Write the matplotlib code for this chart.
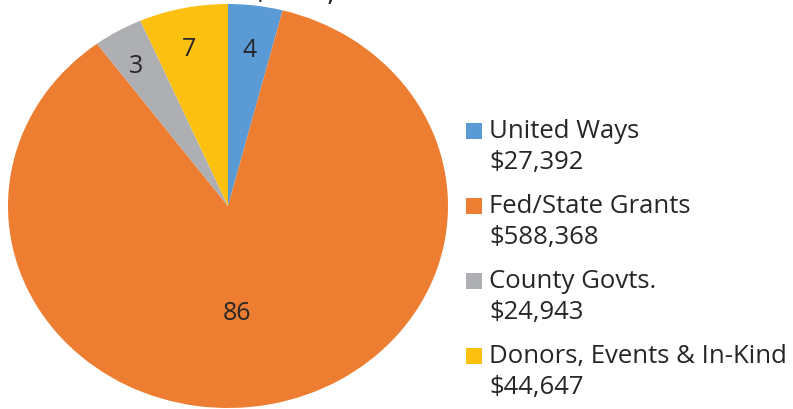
import numpy as np
import matplotlib
matplotlib.use("Agg")
from matplotlib import pyplot as plt
from matplotlib.patches import Rectangle

plt.rcParams['font.family'] = ['Open Sans', 'DejaVu Sans']

# revenue sources
categories = ["United Ways", "Fed/State Grants", "County Govts.", "Donors, Events & In-Kind"]
amounts = [27392, 588368, 24943, 44647]
amount_labels = ["$27,392", "$588,368", "$24,943", "$44,647"]
pct_labels = ["4", "86", "3", "7"]
colors = ["#5B9BD5", "#ED7D31", "#AEAFB2", "#FCC010"]
title = "Total: $685,350"

fig = plt.figure(figsize=(7.93, 4.10), dpi=100)
W, H = 793, 410

# pie drawn a little stretched, like the original
ax = fig.add_axes([8 / W, 1 / H, 440 / W, 404 / H])
wedges, _ = ax.pie(amounts, colors=colors, startangle=90, counterclock=False,
                   radius=1.0, wedgeprops=dict(linewidth=0))
ax.set_aspect('auto')
ax.set_xlim(-1, 1)
ax.set_ylim(-1, 1)
ax.axis('off')

# data labels, big slice label sits closer to centre
label_r = [0.78, 0.53, 0.81, 0.80]
label_rot = [0, -6.5, 1, 1]
for w, txt, r, rot in zip(wedges, pct_labels, label_r, label_rot):
    ang = np.deg2rad((w.theta1 + w.theta2) / 2 + rot)
    ax.text(r * np.cos(ang), r * np.sin(ang), txt, ha='center', va='center',
            fontsize=18, color='#262626')

# hand made legend (square next to first line)
y0 = 132
for i, w in enumerate(wedges):
    yc = y0 + i * 75
    fig.patches.append(Rectangle((466 / W, 1 - (yc + 8) / H), 16 / W, 16 / H,
                                 transform=fig.transFigure,
                                 facecolor=w.get_facecolor(), edgecolor='none'))
    fig.text(489 / W, 1 - yc / H, categories[i], ha='left', va='center',
             fontsize=18.5, color='#262626')
    fig.text(489 / W, 1 - (yc + 31) / H, amount_labels[i], ha='left', va='center',
             fontsize=18.5, color='#262626')

# title mostly cut off by the top edge, as in the original
fig.text(275 / W, 1 - 0.2 / H, title, ha='center', va='baseline',
         fontsize=24, color='#262626', zorder=0)

fig.savefig("out.png", dpi=100)
